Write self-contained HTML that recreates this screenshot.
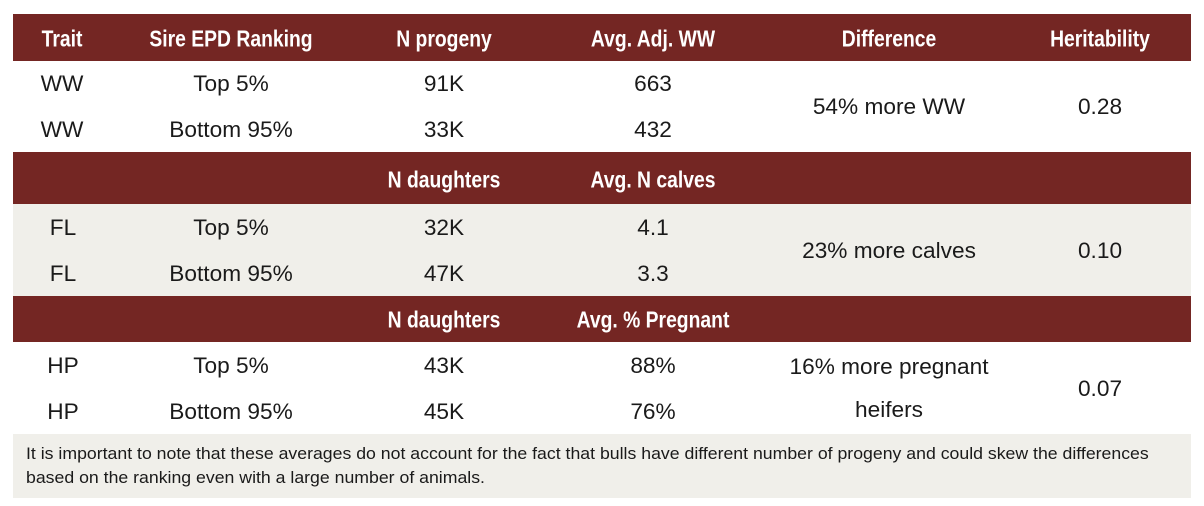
<!DOCTYPE html>
<html><head><meta charset="utf-8"><style>
*{margin:0;padding:0;box-sizing:border-box}
body{width:1204px;height:506px;background:#fff;position:relative;overflow:hidden;font-family:"Liberation Sans",sans-serif;color:#1a1a1a}
.bar{position:absolute;left:13px;width:1178px}
.red{background:#742623}
.beige{background:#f0efea}
.t{position:absolute;white-space:nowrap;font-size:22px;transform:translate(-50%,-50%) scaleX(1.03);line-height:1}
.h{position:absolute;white-space:nowrap;font-size:23px;font-weight:bold;color:#fff;transform:translate(-50%,-50%) scaleX(0.84);line-height:1}
.n{position:absolute;left:26px;white-space:nowrap;font-size:17px;transform-origin:left center;transform:scaleX(1.04);line-height:1}
</style></head><body>
<div class="bar red" style="top:14px;height:47px"></div>
<div class="bar red" style="top:152px;height:52px"></div>
<div class="bar beige" style="top:204px;height:92px"></div>
<div class="bar red" style="top:296px;height:46px"></div>
<div class="bar beige" style="top:434px;height:64px"></div>

<div class="h" style="left:62px;top:39px">Trait</div>
<div class="h" style="left:231px;top:39px">Sire EPD Ranking</div>
<div class="h" style="left:444px;top:39px">N progeny</div>
<div class="h" style="left:653px;top:39px">Avg. Adj. WW</div>
<div class="h" style="left:889px;top:39px">Difference</div>
<div class="h" style="left:1100px;top:39px">Heritability</div>

<div class="t" style="left:62px;top:84px">WW</div>
<div class="t" style="left:231px;top:84px">Top 5%</div>
<div class="t" style="left:444px;top:84px">91K</div>
<div class="t" style="left:653px;top:84px">663</div>
<div class="t" style="left:62px;top:130px">WW</div>
<div class="t" style="left:231px;top:130px">Bottom 95%</div>
<div class="t" style="left:444px;top:130px">33K</div>
<div class="t" style="left:653px;top:130px">432</div>
<div class="t" style="left:889px;top:107px">54% more WW</div>
<div class="t" style="left:1100px;top:107px">0.28</div>

<div class="h" style="left:444px;top:180px">N daughters</div>
<div class="h" style="left:653px;top:180px">Avg. N calves</div>

<div class="t" style="left:63px;top:228px">FL</div>
<div class="t" style="left:231px;top:228px">Top 5%</div>
<div class="t" style="left:444px;top:228px">32K</div>
<div class="t" style="left:653px;top:228px">4.1</div>
<div class="t" style="left:63px;top:274px">FL</div>
<div class="t" style="left:231px;top:274px">Bottom 95%</div>
<div class="t" style="left:444px;top:274px">47K</div>
<div class="t" style="left:653px;top:274px">3.3</div>
<div class="t" style="left:889px;top:251px">23% more calves</div>
<div class="t" style="left:1100px;top:251px">0.10</div>

<div class="h" style="left:444px;top:320px">N daughters</div>
<div class="h" style="left:653px;top:320px">Avg. % Pregnant</div>

<div class="t" style="left:63px;top:366px">HP</div>
<div class="t" style="left:231px;top:366px">Top 5%</div>
<div class="t" style="left:444px;top:366px">43K</div>
<div class="t" style="left:653px;top:366px">88%</div>
<div class="t" style="left:63px;top:412px">HP</div>
<div class="t" style="left:231px;top:412px">Bottom 95%</div>
<div class="t" style="left:444px;top:412px">45K</div>
<div class="t" style="left:653px;top:412px">76%</div>
<div class="t" style="left:889px;top:367px">16% more pregnant</div>
<div class="t" style="left:889px;top:410px">heifers</div>
<div class="t" style="left:1100px;top:389px">0.07</div>

<div class="n" style="top:445px">It is important to note that these averages do not account for the fact that bulls have different number of progeny and could skew the differences</div>
<div class="n" style="top:469px">based on the ranking even with a large number of animals.</div>
</body></html>
